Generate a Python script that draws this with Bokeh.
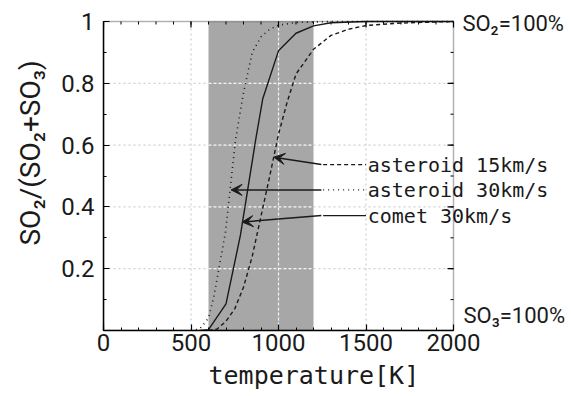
import math
from bokeh.plotting import figure
from bokeh.models import (BoxAnnotation, Label, Arrow, VeeHead, Title,
                          FixedTicker, Range1d)
from bokeh.embed import file_html
from bokeh.resources import INLINE

# ---- data ----
temp_comet = [550, 600, 700, 783, 869, 910, 1000, 1100, 1200, 1300, 1500, 2000]
so2_comet = [0.0, 0.003, 0.086, 0.31, 0.615, 0.75, 0.905, 0.962, 0.986, 0.996, 1.0, 1.0]

temp_ast30 = [500, 550, 600, 630, 650, 697, 754, 800, 850, 900, 950, 1000, 1100, 1300, 2000]
so2_ast30 = [0.0, 0.005, 0.04, 0.108, 0.17, 0.318, 0.615, 0.77, 0.90, 0.95, 0.975, 0.988, 0.997, 1.0, 1.0]

temp_ast15 = [600, 650, 700, 750, 800, 850, 900, 950, 1000, 1050, 1100, 1200, 1300, 1400, 1500, 1700, 2000]
so2_ast15 = [0.0, 0.005, 0.03, 0.07, 0.14, 0.24, 0.37, 0.50, 0.635, 0.74, 0.83, 0.91, 0.955, 0.975, 0.987, 0.995, 1.0]

series_names = ["asteroid 15km/s", "asteroid 30km/s", "comet 30km/s"]
shade_range = [600, 1200]

x_bounds = [0, 2000]
y_bounds = [0.0, 1.0]
x_ticks = [0, 500, 1000, 1500, 2000]
x_minor = list(range(0, 2001, 100))
y_ticks = [0.0, 0.2, 0.4, 0.6, 0.8, 1.0]
y_tick_labels = ["", "0.2", "0.4", "0.6", "0.8", "1"]
y_minor = [0.0, 0.1, 0.2, 0.3, 0.4, 0.5, 0.6, 0.7, 0.8, 0.9, 1.0]
grid_x = [500, 1000, 1500]
grid_y = [0.2, 0.4, 0.6, 0.8]

TICK_FONT = "Roboto"
MONO = "DejaVu Sans Mono"
INK = "#1a1a1a"

# frame: x 0..2000 spans px 103..453 (0.175 px/K); extended right to the window edge
# so that the annotations beyond x=2000 are not clipped
px_per_k = 350 / 2000.0
px_per_unit = 309 / 1.0
x_end = (571 - 103) / px_per_k
y_end = (330 - 4) / px_per_unit

p = figure(width=571, height=396, x_range=Range1d(0, x_end), y_range=Range1d(0, y_end),
           output_backend="svg", toolbar_location=None,
           min_border_left=103, min_border_right=0, min_border_top=4, min_border_bottom=66)
p.outline_line_color = None
p.background_fill_color = "white"
p.border_fill_color = "white"
p.xgrid.visible = False
p.ygrid.visible = False

# light grey dotted grid
p.segment(x0=grid_x, y0=[y_bounds[0]] * len(grid_x), x1=grid_x, y1=[y_bounds[1]] * len(grid_x),
          line_color="#c4c4c4", line_dash="2 3", line_width=1)
p.segment(x0=[x_bounds[0]] * len(grid_y), y0=grid_y, x1=[x_bounds[1]] * len(grid_y), y1=grid_y,
          line_color="#c4c4c4", line_dash="2 3", line_width=1)

# shaded band
p.add_layout(BoxAnnotation(left=shade_range[0], right=shade_range[1], bottom=y_bounds[0],
                           top=y_bounds[1], fill_color="#a7a7a7", fill_alpha=1.0,
                           line_color=None, level="underlay"))

# white grid over the shaded band
vx = [gx for gx in grid_x if shade_range[0] < gx < shade_range[1]]
p.segment(x0=vx, y0=[y_bounds[0]] * len(vx), x1=vx, y1=[y_bounds[1]] * len(vx),
          line_color="#f4f4f4", line_dash="3 2", line_width=1.2)
p.segment(x0=[shade_range[0]] * len(grid_y), y0=grid_y, x1=[shade_range[1]] * len(grid_y),
          y1=grid_y, line_color="#f4f4f4", line_dash="3 2", line_width=1.2)


def style_axis(ax):
    ax.axis_line_color = "black"
    ax.axis_line_width = 1.5
    ax.major_tick_in = 6
    ax.major_tick_out = 0
    ax.minor_tick_in = 3
    ax.minor_tick_out = 0
    ax.major_tick_line_color = "black"
    ax.minor_tick_line_color = "black"
    ax.major_tick_line_width = 1.2
    ax.minor_tick_line_width = 1.0
    ax.major_label_text_font = TICK_FONT
    ax.major_label_text_font_size = "24px"
    ax.major_label_text_color = INK


xa = p.xaxis[0]
xa.ticker = FixedTicker(ticks=x_ticks, minor_ticks=x_minor)
xa.bounds = tuple(x_bounds)
style_axis(xa)
xa.major_label_standoff = 3

ya = p.yaxis[0]
ya.ticker = FixedTicker(ticks=y_ticks, minor_ticks=y_minor)
ya.bounds = tuple(y_bounds)
ya.major_label_overrides = {t: l for t, l in zip(y_ticks, y_tick_labels)}
style_axis(ya)
ya.major_label_standoff = 9

# mirrored ticks on the top and right edges of the plot box
p.ray(x=x_minor, y=[y_bounds[1]] * len(x_minor), length=3, length_units="screen",
      angle=-math.pi / 2, line_color="black", line_width=1.0)
p.ray(x=x_ticks, y=[y_bounds[1]] * len(x_ticks), length=6, length_units="screen",
      angle=-math.pi / 2, line_color="black", line_width=1.2)
p.ray(x=[x_bounds[1]] * len(y_minor), y=y_minor, length=3, length_units="screen",
      angle=math.pi, line_color="black", line_width=1.0)
p.ray(x=[x_bounds[1]] * len(y_ticks), y=y_ticks, length=6, length_units="screen",
      angle=math.pi, line_color="black", line_width=1.2)

# curves
p.line(temp_ast15, so2_ast15, line_color=INK, line_width=1.4, line_dash="4 3")
p.line(temp_ast30, so2_ast30, line_color=INK, line_width=1.6, line_dash="1 4")
p.line(temp_comet, so2_comet, line_color=INK, line_width=1.4)

# plot box
p.add_layout(BoxAnnotation(left=x_bounds[0], right=x_bounds[1], bottom=y_bounds[0],
                           top=y_bounds[1], fill_color=None, line_color="black",
                           line_width=1.5, level="overlay"))

# leader lines + arrows + texts
row_y = [0.537, 0.455, 0.372]
tips = [(973, 0.561), (729, 0.455), (792, 0.351)]
dashes = ["4 3", "1 4", "solid"]
for name, ry, (tx, ty), dsh in zip(series_names, row_y, tips, dashes):
    p.line([1255, 1500], [ry, ry], line_color=INK, line_width=1.3, line_dash=dsh)
    p.add_layout(Arrow(end=VeeHead(size=11, fill_color=INK, line_color=INK),
                       x_start=1245, y_start=ry, x_end=tx, y_end=ty,
                       line_color=INK, line_width=1.5))
    p.add_layout(Label(x=1510, y=ry, text=name, text_font=MONO, text_font_size="20px",
                       text_baseline="middle", text_align="left", text_color=INK))

# right-side end labels
p.add_layout(Label(x=2051, y=0.995, text="SO₂=100%", text_font=TICK_FONT,
                   text_font_size="22px", text_align="left", text_baseline="middle",
                   text_color=INK))
p.add_layout(Label(x=2057, y=0.047, text="SO₃=100%", text_font=TICK_FONT,
                   text_font_size="22px", text_align="left", text_baseline="middle",
                   text_color=INK))

# axis titles (as side titles so they are not clipped)
p.add_layout(Title(text="temperature[K]", align="left", offset=105, standoff=10,
                   text_font=MONO, text_font_size="25px", text_font_style="normal",
                   text_color=INK), "below")
p.add_layout(Title(text="SO₂/(SO₂+SO₃)", align="left", vertical_align="top", offset=85,
                   standoff=20, text_font=TICK_FONT, text_font_size="28px",
                   text_font_style="normal", text_color=INK), "left")

open("out.html", "w").write(file_html(p, INLINE))
